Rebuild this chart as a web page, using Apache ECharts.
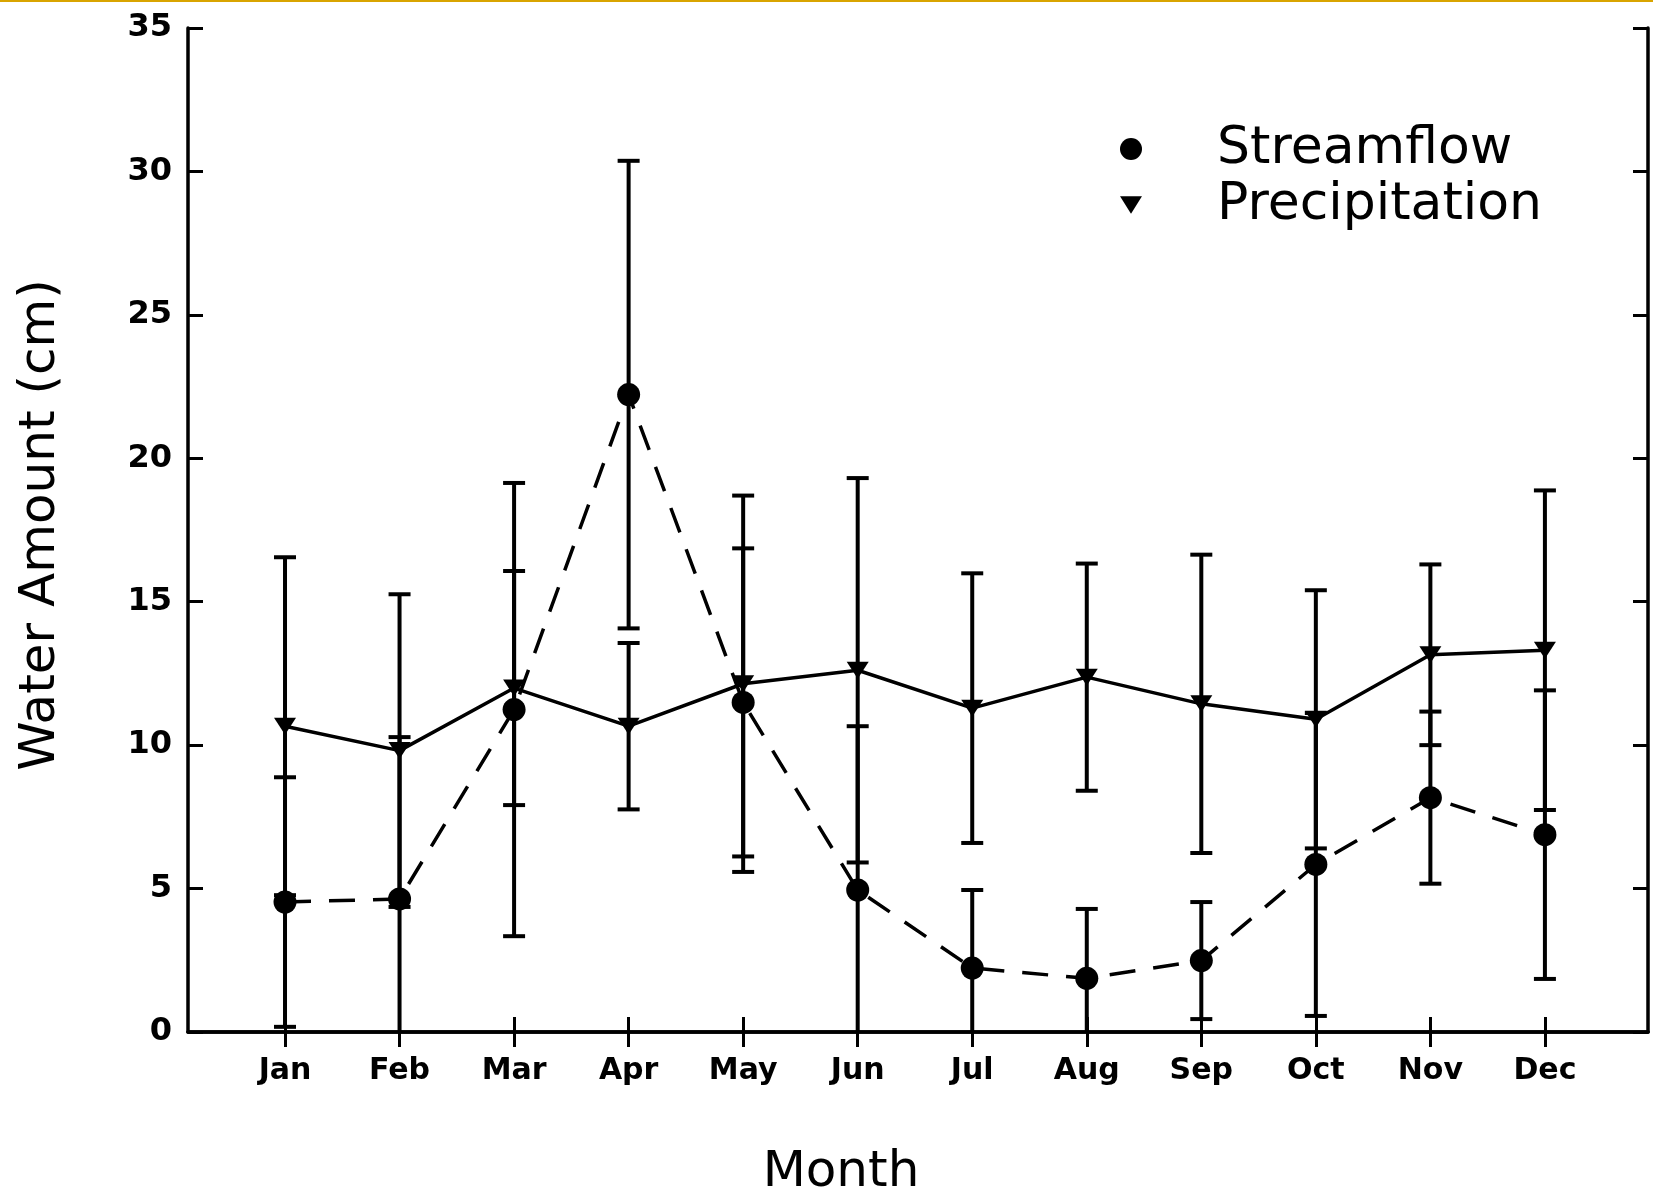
<!DOCTYPE html>
<html>
<head>
<meta charset="utf-8">
<script src="https://cdn.jsdelivr.net/npm/echarts@6/dist/echarts.min.js"></script>
<style>html,body{margin:0;padding:0;background:#fff}#c{width:1653px;height:1196px}</style>
</head>
<body>
<div id="c"></div>
<script>
const months = ['Jan','Feb','Mar','Apr','May','Jun','Jul','Aug','Sep','Oct','Nov','Dec'];
const streamflow = [4.53, 4.64, 11.24, 22.22, 11.49, 4.95, 2.23, 1.87, 2.49, 5.84, 8.17, 6.88];
const streamflowSd = [4.35, 5.64, 7.9, 8.15, 5.37, 5.71, 2.72, 2.42, 2.04, 5.28, 3.0, 5.03];
const precipitation = [10.66, 9.81, 11.99, 10.66, 12.14, 12.61, 11.29, 12.37, 11.44, 10.9, 13.15, 13.31];
const precipitationSd = [5.89, 5.45, 4.08, 2.9, 6.56, 6.7, 4.7, 3.96, 5.2, 4.5, 3.15, 5.57];
const yTicks = [0, 5, 10, 15, 20, 25, 30, 35];

const FONT = 'DejaVu Sans';
const monthPos = months.map((m, i) => i + 1);
const pts = vals => vals.map((v, i) => [i + 1, v]);
const errData = (vals, sds) => vals.map((v, i) => [i + 1, v - sds[i], v + sds[i]]);
const TRI = 'path://M0,0 L20,0 L10,16 Z';
const CAP = 11;

function renderErr(params, api) {
  const x = api.value(0), lo = api.value(1), hi = api.value(2);
  const pHi = api.coord([x, hi]);
  const pLo = api.coord([x, Math.max(lo, 0)]);
  const style = { stroke: '#000', lineWidth: 4 };
  const children = [
    { type: 'line', shape: { x1: pHi[0], y1: pHi[1], x2: pLo[0], y2: pLo[1] }, style },
    { type: 'line', shape: { x1: pHi[0] - CAP, y1: pHi[1], x2: pHi[0] + CAP, y2: pHi[1] }, style }
  ];
  if (lo >= 0) {
    children.push({ type: 'line', shape: { x1: pLo[0] - CAP, y1: pLo[1], x2: pLo[0] + CAP, y2: pLo[1] }, style });
  }
  return { type: 'group', children };
}

const chart = echarts.init(document.getElementById('c'));
const axisCommon = {
  axisLine: { show: true, lineStyle: { color: '#000', width: 3.5 } },
  axisTick: { show: true, inside: true, length: 15, lineStyle: { color: '#000', width: 3 } },
  splitLine: { show: false }
};
chart.setOption({
  animation: false,
  backgroundColor: '#fff',
  graphic: [{ type: 'rect', shape: { x: 0, y: 0, width: 1653, height: 2 }, style: { fill: '#D9A400' } }],
  grid: { left: 188, right: 5, top: 28, bottom: 164, containLabel: false, outerBoundsMode: 'none' },
  legend: {
    orient: 'vertical', left: 1115, top: 116, itemGap: 0,
    itemWidth: 22, itemHeight: 22,
    textStyle: { fontFamily: FONT, fontSize: 52, color: '#000', lineHeight: 56, padding: [0, 0, 0, 70] },
    data: [
      { name: 'Streamflow', icon: 'circle' },
      { name: 'Precipitation', icon: TRI }
    ]
  },
  xAxis: [
    Object.assign({}, axisCommon, {
      type: 'value', min: 0.153, max: 12.9, position: 'bottom',
      axisTick: Object.assign({}, axisCommon.axisTick, { customValues: monthPos }),
      axisLabel: {
        customValues: monthPos, formatter: v => months[Math.round(v) - 1],
        fontFamily: FONT, fontWeight: 'bold', fontSize: 30, color: '#000', margin: 24
      },
      name: 'Month', nameLocation: 'middle', nameGap: 116,
      nameTextStyle: { fontFamily: FONT, fontSize: 50, color: '#000', padding: [0, 154, 0, 0] }
    }),
    Object.assign({}, axisCommon, {
      type: 'value', min: 0.153, max: 12.9, position: 'top',
      axisTick: Object.assign({}, axisCommon.axisTick, { customValues: monthPos }),
      axisLabel: { show: false }
    })
  ],
  yAxis: [
    Object.assign({}, axisCommon, {
      type: 'value', min: 0, max: 35, interval: 5, position: 'left',
      axisLabel: {
        customValues: yTicks,
        fontFamily: FONT, fontWeight: 'bold', fontSize: 32, color: '#000', margin: 16
      },
      name: 'Water Amount (cm)', nameLocation: 'middle', nameGap: 122, nameRotate: 90,
      nameTextStyle: { fontFamily: FONT, fontSize: 50, color: '#000', padding: [0, 0, 0, 10] }
    }),
    Object.assign({}, axisCommon, {
      type: 'value', min: 0, max: 35, interval: 5, position: 'right',
      axisLabel: { show: false }
    })
  ],
  series: [
    {
      name: 'Streamflow', type: 'line', data: pts(streamflow), z: 5,
      symbol: 'circle', symbolSize: 23, itemStyle: { color: '#000' },
      lineStyle: { color: '#000', width: 3.5, type: [26, 18] }
    },
    {
      name: 'Precipitation', type: 'line', data: pts(precipitation), z: 5,
      symbol: TRI, symbolSize: [22, 17], itemStyle: { color: '#000' },
      lineStyle: { color: '#000', width: 3.5 }
    },
    { name: 'Streamflow', type: 'custom', data: errData(streamflow, streamflowSd), renderItem: renderErr, z: 3 },
    { name: 'Precipitation', type: 'custom', data: errData(precipitation, precipitationSd), renderItem: renderErr, z: 3 }
  ]
});
</script>
</body>
</html>
